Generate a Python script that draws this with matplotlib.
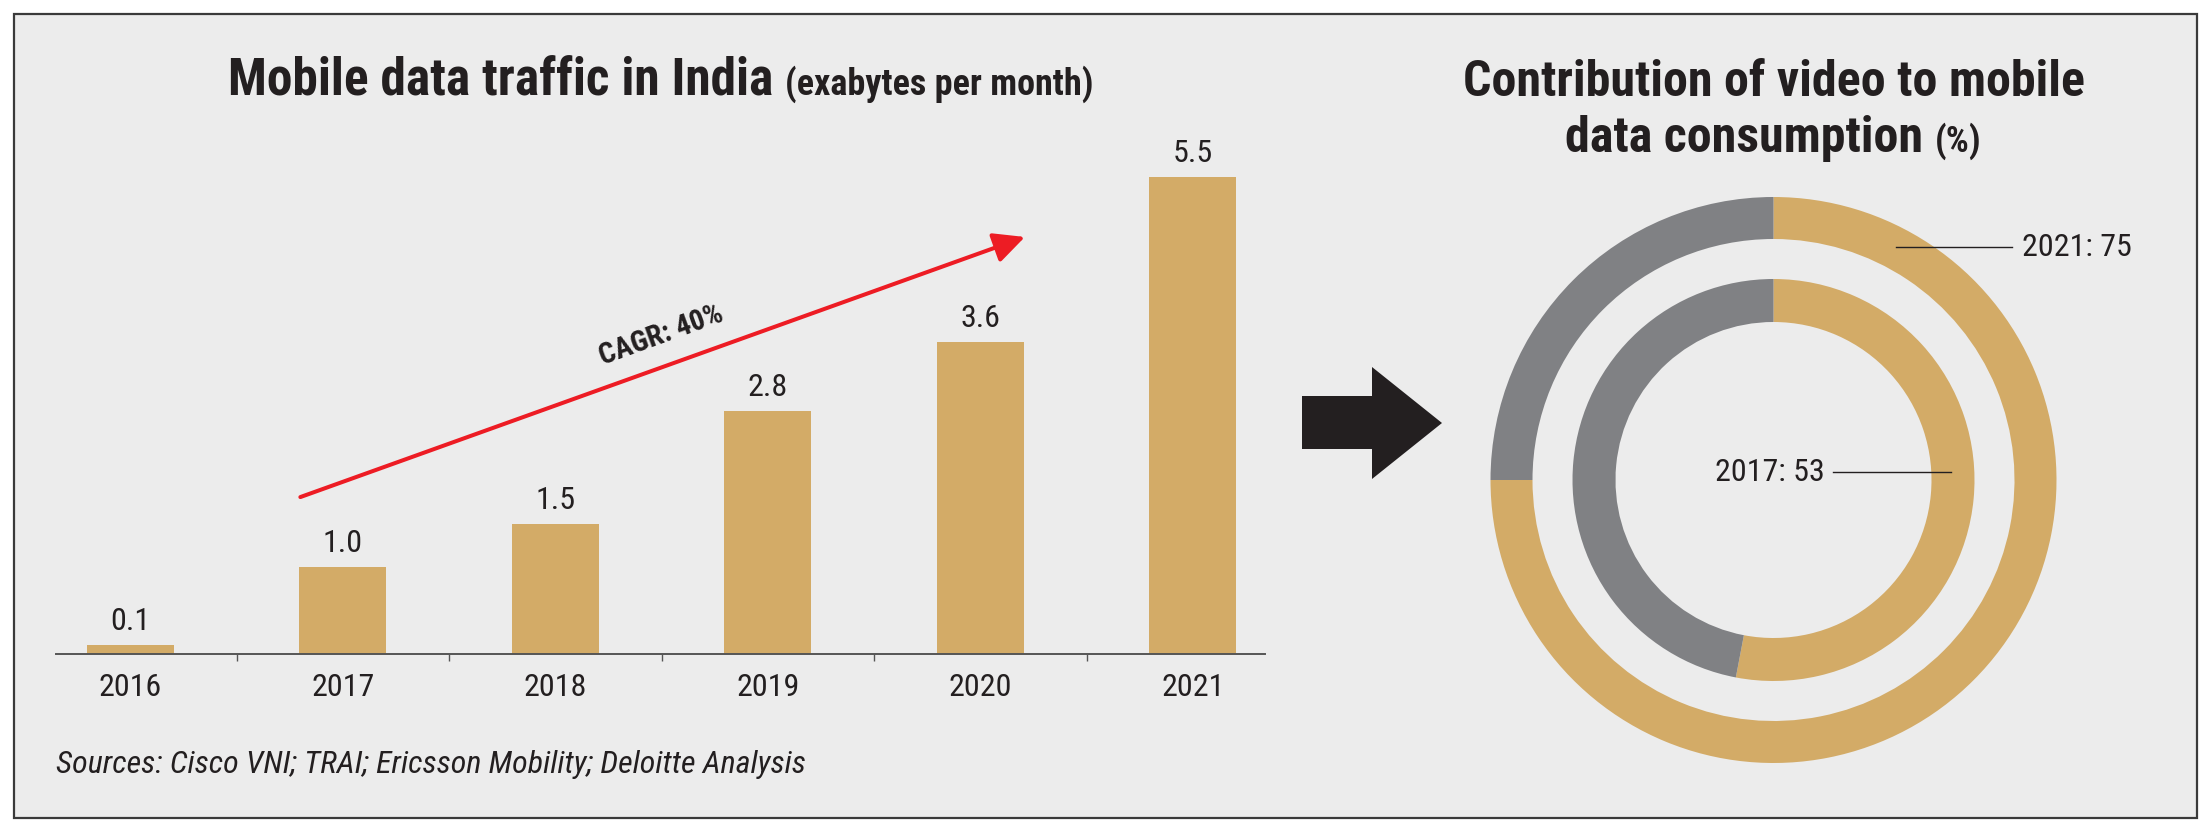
import matplotlib
matplotlib.use("Agg")
import matplotlib.pyplot as plt
from matplotlib import font_manager as fm
from matplotlib.patches import Rectangle, Polygon

# ---- data ----
years = ["2016", "2017", "2018", "2019", "2020", "2021"]
traffic = [0.1, 1.0, 1.5, 2.8, 3.6, 5.5]          # exabytes per month
cagr_label = "CAGR: 40%"
video_share = {"2021": 75, "2017": 53}            # % of mobile data
source_note = "Sources: Cisco VNI; TRAI; Ericsson Mobility; Deloitte Analysis"

GOLD = "#d3ab67"
GREY = "#808184"
BG = "#ececec"
INK = "#231f20"
RED = "#ed1c24"

W, H = 2207, 831


def pick_font(cands):
    for c in cands:
        try:
            fm.findfont(fm.FontProperties(family=c), fallback_to_default=False)
            return c
        except ValueError:
            pass
    return "DejaVu Sans"


NARROW = pick_font(["Liberation Sans Narrow", "Arial Narrow", "Roboto Condensed",
                    "Liberation Sans"])
plt.rcParams["font.family"] = [NARROW, "DejaVu Sans"]
plt.rcParams["text.color"] = INK


def fx(x):
    return x / W


def fy(y):
    return 1 - y / H


fig = plt.figure(figsize=(W / 100, H / 100), dpi=100)
fig.patch.set_facecolor("white")

# panel background + frame
fig.add_artist(Rectangle((fx(14), fy(818)), fx(2197) - fx(14), fy(14) - fy(818),
                         transform=fig.transFigure, facecolor=BG, edgecolor="#3a3a3a",
                         lw=1.6, zorder=0))

# ---- bar chart ----
px_unit = 86.7
ymax = 6.5
ax = fig.add_axes([fx(56), fy(654), fx(1265) - fx(56), ymax * px_unit / H])
ax.set_facecolor("none")
ax.bar(range(len(years)), traffic, width=0.41, color=GOLD, zorder=2)
ax.set_xlim(-0.35, 5.34)
ax.set_ylim(0, ymax)
for s in ["left", "top", "right"]:
    ax.spines[s].set_visible(False)
ax.spines["bottom"].set_color("#555555")
ax.spines["bottom"].set_linewidth(1.4)
ax.set_yticks([])
ax.set_xticks(range(len(years)), years)
ax.set_xticks([i + 0.5 for i in range(len(years) - 1)], minor=True)
ax.tick_params(axis="x", which="major", length=0, pad=14, labelsize=23, labelcolor=INK)
ax.tick_params(axis="x", which="minor", length=5, width=1, color="#555555")

for i, v in enumerate(traffic):
    ax.annotate(f"{v:.1f}", xy=(i, v), xytext=(0, 11), textcoords="offset points",
                ha="center", va="baseline", fontsize=23)

ax.annotate("", xy=(4.21, 4.81), xytext=(0.8, 1.81),
            arrowprops=dict(arrowstyle="-|>,head_length=0.45,head_width=0.22",
                            color=RED, lw=2.9, mutation_scale=42,
                            shrinkA=0, shrinkB=0), zorder=3)
ax.text(2.50, 3.68, cagr_label, rotation=20, rotation_mode="anchor",
        ha="center", va="center", fontsize=21, fontweight="bold")

fig.text(fx(56), fy(773), source_note, fontsize=23, style="italic", va="baseline")


def two_part_title(xc, ybase, big, small, big_size, small_size):
    t1 = fig.text(0, fy(ybase), big, fontsize=big_size, fontweight="black", va="baseline")
    t2 = fig.text(0, fy(ybase), small, fontsize=small_size, fontweight="black", va="baseline")
    r = fig.canvas.get_renderer()
    w1 = t1.get_window_extent(r).width
    w2 = t2.get_window_extent(r).width
    gap = 12
    x0 = xc - (w1 + gap + w2) / 2
    t1.set_x(fx(x0))
    t2.set_x(fx(x0 + w1 + gap))


two_part_title(661, 95, "Mobile data traffic in India", "(exabytes per month)", 37, 26)
fig.text(fx(1774), fy(96), "Contribution of video to mobile", fontsize=36,
         fontweight="black", ha="center", va="baseline")
two_part_title(1773, 152, "data consumption", "(%)", 36, 26)

# big black arrow
fig.add_artist(Polygon([(fx(1302), fy(396)), (fx(1372), fy(396)), (fx(1372), fy(367)),
                        (fx(1442), fy(423)), (fx(1372), fy(479)), (fx(1372), fy(449)),
                        (fx(1302), fy(449))], closed=True, transform=fig.transFigure,
                       facecolor=INK, edgecolor="none"))

# ---- donuts ----
R = 283.0
lim = 1.1
cx, cy = 1773.5, 480
side = 2 * lim * R
ax2 = fig.add_axes([fx(cx - side / 2), fy(cy + side / 2), side / W, side / H])
outer = video_share["2021"]
inner = video_share["2017"]
ax2.pie([outer, 100 - outer], radius=1.0, colors=[GOLD, GREY], startangle=90,
        counterclock=False, wedgeprops=dict(width=42 / R, edgecolor="none"))
ax2.pie([inner, 100 - inner], radius=201 / R, colors=[GOLD, GREY], startangle=90,
        counterclock=False, wedgeprops=dict(width=43 / R, edgecolor="none"))
ax2.set_xlim(-lim, lim)
ax2.set_ylim(-lim, lim)
ax2.set_aspect("equal")
ax2.axis("off")

ax2.plot([0.433, 0.843], [0.823, 0.823], color=INK, lw=1)
ax2.text(0.878, 0.823, f"2021: {outer}", ha="left", va="center", fontsize=23)
ax2.plot([0.210, 0.627], [0.028, 0.028], color=INK, lw=1)
ax2.text(0.182, 0.028, f"2017: {inner}", ha="right", va="center", fontsize=23)

fig.savefig("out.png", dpi=100, facecolor="white")
